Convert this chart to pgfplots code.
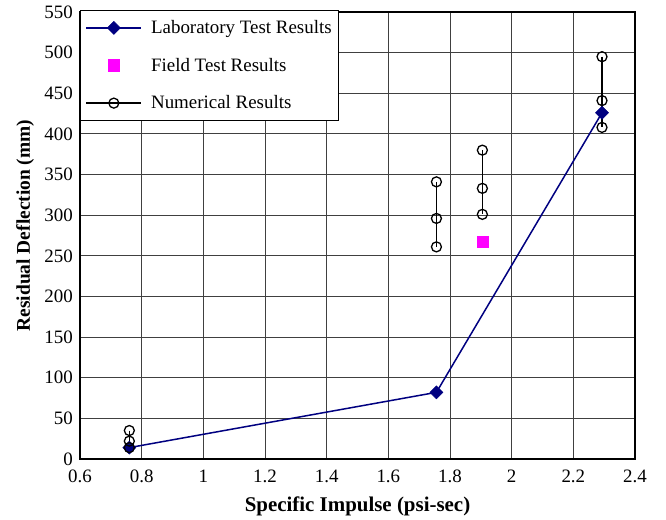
\documentclass[border=0pt]{standalone}
\usepackage{fontspec}
\setmainfont{Liberation Serif}
\usepackage{pgfplots}
\pgfplotsset{compat=1.18}
\usetikzlibrary{calc}
\definecolor{navy}{RGB}{0,0,128}
\definecolor{fieldmag}{RGB}{255,0,255}
\begin{document}
\begin{tikzpicture}
\begin{axis}[
  name=ax,
  scale only axis,
  width=555bp, height=447bp,
  xmin=0.6, xmax=2.4, ymin=0, ymax=550,
  xtick={0.6,0.8,1,1.2,1.4,1.6,1.8,2,2.2,2.4},
  xticklabels={0.6,0.8,1,1.2,1.4,1.6,1.8,2,2.2,2.4},
  ytick={0,50,...,550},
  major tick length=0pt,
  grid=major,
  major grid style={draw=black!75, line width=0.8bp},
  axis line style={line width=1.2bp},
  tick label style={font=\fontsize{19}{22}\selectfont, inner sep=1bp},
  /pgf/number format/assume math mode=true,
  xticklabel style={yshift=-10bp},
  yticklabel style={xshift=-6bp},
  xlabel={\textbf{Specific Impulse (psi-sec)}},
  ylabel={\textbf{Residual Deflection (mm)}},
  xlabel style={font=\fontsize{21}{24}\selectfont, yshift=-9bp},
  ylabel style={font=\fontsize{19.5}{23}\selectfont, yshift=6bp, xshift=10bp},
  unbounded coords=jump,
  clip=false,
  legend cell align=left,
  legend style={at={(0,1)}, anchor=north west, yshift=2bp,
    draw=black, line width=1.2bp, font=\fontsize{19}{22}\selectfont,
    row sep=19bp, column sep=7bp, inner xsep=5bp, inner ysep=8bp},
  legend image code/.code={\draw[mark repeat=2,mark phase=2,#1] plot coordinates {(0bp,0bp) (27.5bp,0bp) (55bp,0bp)};},
]
\addplot[navy, line width=1.5bp, mark=square*, mark size=4.6bp, mark options={rotate=45, fill=navy, draw=navy, line width=0.5bp}]
  coordinates {(0.76,14) (1.756,82) (2.293,426)};
\addlegendentry{Laboratory Test Results}
\addplot[only marks, mark=square*, mark size=5.6bp, mark options={fill=fieldmag, draw=fieldmag}]
  coordinates {(1.905,267)};
\addlegendentry{Field Test Results}
\addplot[black, line width=1.5bp, mark=o, mark size=5bp, mark options={line width=1.3bp, fill=none}]
  coordinates {
  (0.76,35) (0.76,22) (0.76,14) (nan,nan)
  (1.756,341) (1.756,296) (1.756,261) (nan,nan)
  (1.905,380) (1.905,333) (1.905,301) (nan,nan)
  (2.293,495) (2.293,441) (2.293,408)};
\addlegendentry{Numerical Results}
\end{axis}
\coordinate (bl) at ($(ax.south west)+(-80bp,-61bp)$);
\coordinate (tr) at ($(ax.north east)+(31bp,12bp)$);
\path (bl) rectangle (tr);
\end{tikzpicture}
\end{document}
